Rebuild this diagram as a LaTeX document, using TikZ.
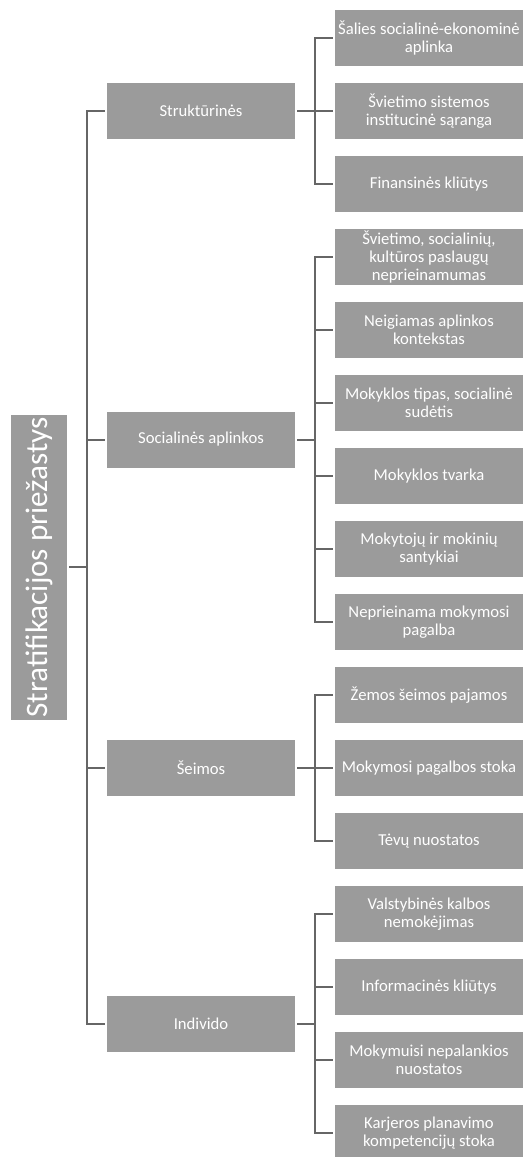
\documentclass[tikz,border=0pt]{standalone}
\usepackage{fontspec}
\setmainfont{Carlito}
\usepackage{tikz}
\usetikzlibrary{positioning,calc}
\definecolor{boxgray}{HTML}{9B9B9B}
\definecolor{linegray}{HTML}{666666}

\begin{document}
\begin{tikzpicture}[
    x=0.75pt, y=0.75pt,
    on grid,
    node distance=54.75pt and 171pt,
    leaf/.style={rectangle, fill=boxgray, text=white, align=center, minimum width=141pt, minimum height=42pt, inner xsep=1pt, inner ysep=0pt, font=\fontsize{12.5pt}{13.7pt}\selectfont},
    mid/.style={leaf},
    root/.style={rectangle, fill=boxgray, text=white, rotate=90, minimum width=228.75pt, minimum height=42pt, inner sep=0pt, font=\fontsize{23.4pt}{26pt}\selectfont},
    link/.style={draw=linegray, line width=1.5pt, shorten <=1.5pt, shorten >=1.5pt}
]
\useasboundingbox (0,0) rectangle (525,-1157);

\node[leaf] (l1) at (429,-38) {Šalies socialinė-ekonominė\\aplinka};
\node[leaf, below=of l1] (l2) {Švietimo sistemos\\institucinė sąranga};
\node[leaf, below=of l2] (l3) {Finansinės kliūtys};
\node[leaf, below=of l3] (l4) {Švietimo, socialinių,\\kultūros paslaugų\\neprieinamumas};
\node[leaf, below=of l4] (l5) {Neigiamas aplinkos\\kontekstas};
\node[leaf, below=of l5] (l6) {Mokyklos tipas, socialinė\\sudėtis};
\node[leaf, below=of l6] (l7) {Mokyklos tvarka};
\node[leaf, below=of l7] (l8) {Mokytojų ir mokinių\\santykiai};
\node[leaf, below=of l8] (l9) {Neprieinama mokymosi\\pagalba};
\node[leaf, below=of l9] (l10) {Žemos šeimos pajamos};
\node[leaf, below=of l10] (l11) {Mokymosi pagalbos stoka};
\node[leaf, below=of l11] (l12) {Tėvų nuostatos};
\node[leaf, below=of l12] (l13) {Valstybinės kalbos\\nemokėjimas};
\node[leaf, below=of l13] (l14) {Informacinės kliūtys};
\node[leaf, below=of l14] (l15) {Mokymuisi nepalankios\\nuostatos};
\node[leaf, below=of l15] (l16) {Karjeros planavimo\\kompetencijų stoka};

\node[mid, left=of l2] (m1) {Struktūrinės};
\node[mid] (m2) at ($(l4)!0.5!(l9)+(-171pt,0)$) {Socialinės aplinkos};
\node[mid, left=of l11] (m3) {Šeimos};
\node[mid] (m4) at ($(l13)!0.5!(l16)+(-171pt,0)$) {Individo};

\node[root] (root) at ($(m1)!0.5!(m4)+(-121.5pt,0)$) {Stratifikacijos priežastys};

\draw[link] (m1.west) -- ++(-15pt,0) coordinate (b0) |- (m4.west);
\draw[link, shorten >=0pt] (m2.west) -- (m2.west -| b0);
\draw[link, shorten >=0pt] (m3.west) -- (m3.west -| b0);
\draw[link, shorten >=0pt] (root.south) -- (root.south -| b0);

\draw[link] (l1.west) -- ++(-15pt,0) coordinate (b1) |- (l3.west);
\draw[link] (m1.east) -- (l2.west);

\draw[link] (l4.west) -- ++(-15pt,0) coordinate (b2) |- (l9.west);
\draw[link, shorten >=0pt] (l5.west) -- (l5.west -| b2);
\draw[link, shorten >=0pt] (l6.west) -- (l6.west -| b2);
\draw[link, shorten >=0pt] (l7.west) -- (l7.west -| b2);
\draw[link, shorten >=0pt] (l8.west) -- (l8.west -| b2);
\draw[link, shorten >=0pt] (m2.east) -- (m2.east -| b2);

\draw[link] (l10.west) -- ++(-15pt,0) coordinate (b3) |- (l12.west);
\draw[link] (m3.east) -- (l11.west);

\draw[link] (l13.west) -- ++(-15pt,0) coordinate (b4) |- (l16.west);
\draw[link, shorten >=0pt] (l14.west) -- (l14.west -| b4);
\draw[link, shorten >=0pt] (l15.west) -- (l15.west -| b4);
\draw[link, shorten >=0pt] (m4.east) -- (m4.east -| b4);

\end{tikzpicture}
\end{document}
